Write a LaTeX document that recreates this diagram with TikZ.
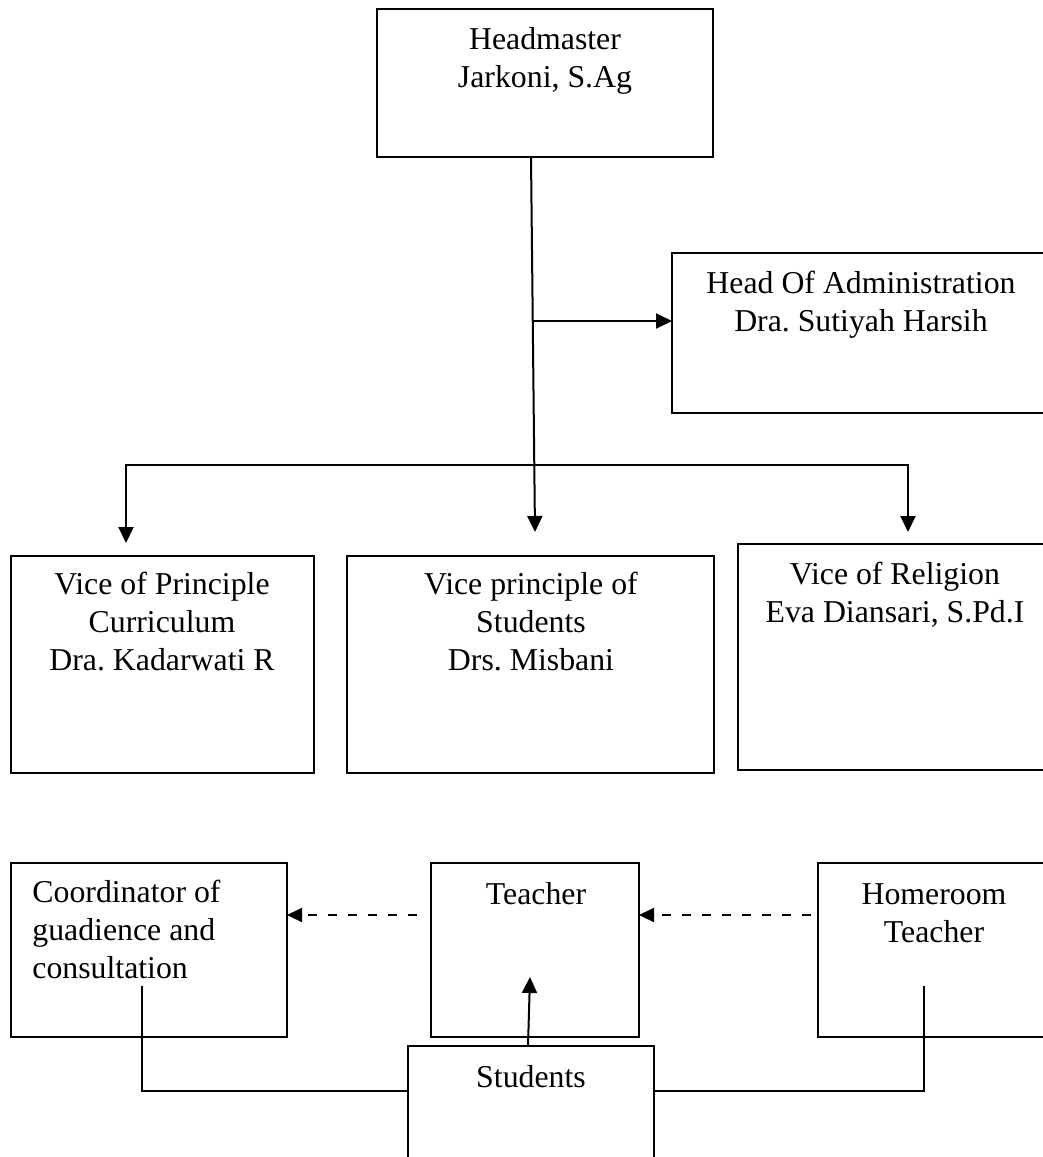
\documentclass[tikz,border=0pt]{standalone}
\usepackage{fontspec}
\setmainfont{Liberation Serif}
\usetikzlibrary{arrows.meta}
\frenchspacing
\begin{document}
\begin{tikzpicture}[x=0.5pt,y=-0.5pt,
  box/.style={draw=black,line width=1pt,inner sep=0pt,outer sep=0pt,fill=none},
  txt/.style={font=\fontsize{15.9pt}{18.9pt}\selectfont\frenchspacing,inner sep=0pt,align=center,anchor=base},
  conn/.style={draw=black,line width=1pt},
  arr/.style={conn,-{Triangle[length=8pt,width=7.5pt]}},
  darr/.style={conn,line width=1.1pt,dash pattern=on 4.5pt off 5.5pt,-{Triangle[length=7.5pt,width=7pt]}}]
\clip (0,0) rectangle (1043,1157);
\fill[white] (0,0) rectangle (1043,1157);
% boxes
\node[box,minimum width=168pt,minimum height=74pt] (hm) at (545,83) {};
\node[box,minimum width=194pt,minimum height=80pt] (adm) at (866,333) {};
\node[box,minimum width=151.5pt,minimum height=108.5pt] (v1) at (162.5,664.5) {};
\node[box,minimum width=183.5pt,minimum height=108.5pt] (v2) at (530.5,664.5) {};
\node[box,minimum width=161pt,minimum height=113pt] (v3) at (899,657) {};
\node[box,minimum width=138pt,minimum height=87pt] (co) at (149,950) {};
\node[box,minimum width=104pt,minimum height=87pt] (te) at (535,950) {};
\node[box,minimum width=121pt,minimum height=87pt] (ho) at (939,950) {};
\node[box,minimum width=123pt,minimum height=77pt] (st) at (531,1123) {};
% texts (anchor base = baseline of the last line)
\node[txt] (hmt) at (545,87) {Headmaster\\Jarkoni, S.Ag};
\node[txt] (admt) at (861,331) {Head Of Administration\\Dra. Sutiyah Harsih};
\node[txt] (v1t) at (162,670) {Vice of Principle\\Curriculum\\Dra. Kadarwati R};
\node[txt] (v2t) at (531,670) {Vice principle of\\Students\\Drs. Misbani};
\node[txt] (v3t) at (895,622) {Vice of Religion\\Eva Diansari, S.Pd.I};
\node[txt,align=left,anchor=base west] (cot) at (32,978) {Coordinator of\\guadience and\\consultation};
\node[txt] (tet) at (536,904) {Teacher};
\node[txt] (hot) at (934,942) {Homeroom\\Teacher};
\node[txt] (stt) at (531,1087) {Students};
% coordinates
\coordinate (c2) at (535,532);
\coordinate (ja) at (533,321);
\coordinate (jb) at (534,465);
\coordinate (bl) at (126,543);
\coordinate (br) at (908,532);
\coordinate (d1) at (417,915);
\coordinate (d2) at (811,915);
\coordinate (tt) at (530,977);
\coordinate (cl) at (142,986);
\coordinate (hl) at (924,986);
% connectors
\draw[arr] ([xshift=-7pt]hm.south) -- (c2);
\draw[arr] (ja) -- (ja -| adm.west);
\draw[arr] (jb) -| (bl);
\draw[arr] (jb) -| (br);
\draw[darr] (d1) -- (d1 -| co.east);
\draw[darr] (d2) -- (d2 -| te.east);
\draw[arr] ([xshift=-1.5pt]st.north) -- (tt);
\draw[conn] (cl) |- ([yshift=16pt]st.west);
\draw[conn] (hl) |- ([yshift=16pt]st.east);
\end{tikzpicture}
\end{document}
